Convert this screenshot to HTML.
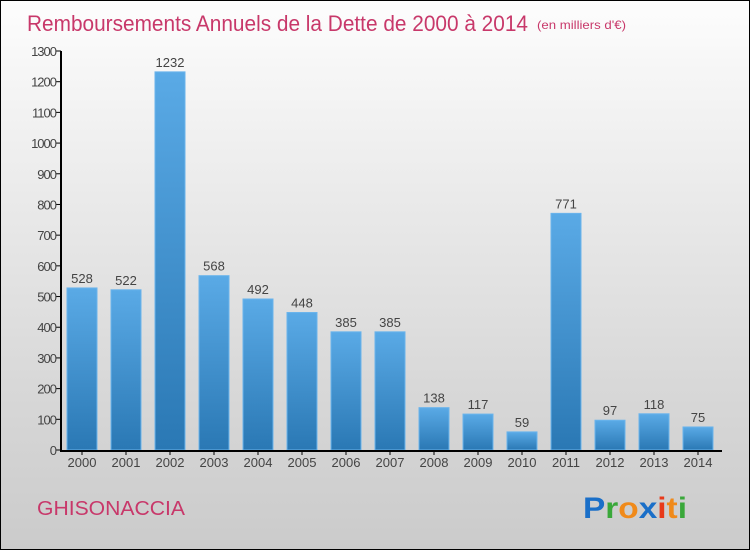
<!DOCTYPE html>
<html><head><meta charset="utf-8"><style>
body{margin:0}
#c{position:relative;width:748px;height:548px;border:1px solid #000;background:linear-gradient(#fdfdfd,#d8d8d8 70%,#cbcbcb);font-family:"Liberation Sans",sans-serif;overflow:hidden}
</style></head><body>
<div id="c">
<svg id="s" width="748" height="548" xmlns="http://www.w3.org/2000/svg">
<defs><linearGradient id="g" x1="0" y1="0" x2="0" y2="1"><stop offset="0" stop-color="#5aaae6"/><stop offset="1" stop-color="#2a78b4"/></linearGradient></defs>
<text x="26" y="30" font-size="22" fill="#c8386a" textLength="501" lengthAdjust="spacingAndGlyphs">Remboursements Annuels de la Dette de 2000 à 2014</text>
<text x="536" y="28" font-size="12" fill="#c8386a" textLength="89" lengthAdjust="spacingAndGlyphs">(en milliers d'€)</text>
<text x="36" y="514" font-size="20" fill="#c8386a" textLength="148" lengthAdjust="spacingAndGlyphs">GHISONACCIA</text>
<text x="582" y="517" font-size="30" font-weight="bold" textLength="104" lengthAdjust="spacingAndGlyphs"><tspan fill="#1a6fc8">P</tspan><tspan fill="#3aa83a">r</tspan><tspan fill="#f08a1a">o</tspan><tspan fill="#1a6fc8">x</tspan><tspan fill="#e83a1a">i</tspan><tspan fill="#f08a1a">t</tspan><tspan fill="#3aa83a">i</tspan></text>
<g id="plot"></g>
</svg></div>
<script>
const years=["2000","2001","2002","2003","2004","2005","2006","2007","2008","2009","2010","2011","2012","2013","2014"];
const values=[528,522,1232,568,492,448,385,385,138,117,59,771,97,118,75];
const yTicks=[0,100,200,300,400,500,600,700,800,900,1000,1100,1200,1300];
const NS="http://www.w3.org/2000/svg";
const g=document.getElementById('plot');
const y0=449,ppu=399/1300;
const Y=v=>y0-v*ppu;
const X=i=>81+i*44;
function el(t,a){const e=document.createElementNS(NS,t);for(const k in a)e.setAttribute(k,a[k]);g.appendChild(e);return e;}
yTicks.forEach(v=>{
 const l=el('line',{x1:55,x2:60,y1:Y(v),y2:Y(v),stroke:'#000'});
 
 
 const t=el('text',{x:55,y:Y(v)+5,'text-anchor':'end','font-size':13,fill:'#444','letter-spacing':'-1'});
 t.textContent=v;
 
 
});
values.forEach((v,i)=>{
 const r=el('rect',{x:X(i)-15,y:Y(v),width:30,height:y0-Y(v),fill:'url(#g)',stroke:'#6ab4ec','stroke-width':1});
 
 
 const t=el('text',{x:X(i),y:Y(v)-5,'text-anchor':'middle','font-size':13,fill:'#444'});
 t.textContent=v;
 
 
 const tk=el('line',{x1:X(i),x2:X(i),y1:y0,y2:y0+5,stroke:'#000'});
 
 
 const xl=el('text',{x:X(i),y:y0+17,'text-anchor':'middle','font-size':13,fill:'#444'});
 xl.textContent=years[i];
 
 
});
const ya=el('line',{x1:60,x2:60,y1:Y(1300),y2:y0+1,stroke:'#000','stroke-width':2});


const xa=el('line',{x1:59,x2:721,y1:y0+1,y2:y0+1,stroke:'#000','stroke-width':2});


</script>
</body></html>
